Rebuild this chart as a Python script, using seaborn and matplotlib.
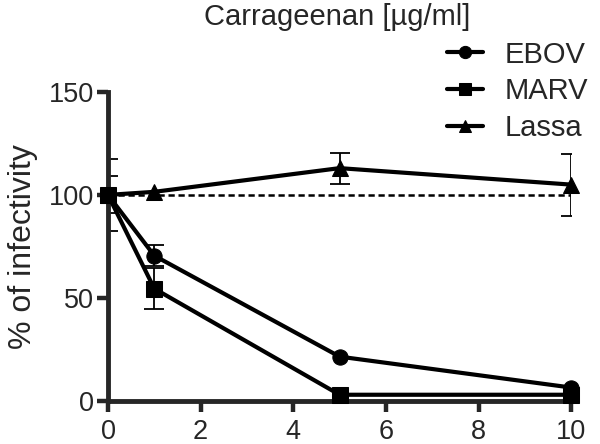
import numpy as np
import pandas as pd
import matplotlib
matplotlib.use("Agg")
import matplotlib.pyplot as plt
import seaborn as sns

# concentration [ug/ml]
conc = [0, 1, 5, 10]
ebov = [100, 70.5, 21.5, 6.5]
marv = [100, 54.5, 3, 3]
lassa = [100, 101.5, 113, 105]
ebov_err = [17.5, 5, 0, 0]
marv_err = [9, 10, 0, 0]
lassa_err = [0, 0, 7.5, 15]

viruses = ["EBOV", "MARV", "Lassa"]
markers = {"EBOV": "o", "MARV": "s", "Lassa": "^"}

df = pd.DataFrame(
    {
        "conc": conc * 3,
        "infectivity": ebov + marv + lassa,
        "err": ebov_err + marv_err + lassa_err,
        "virus": np.repeat(viruses, len(conc)),
    }
)

sns.set_style("ticks")
plt.rcParams["font.family"] = ["Liberation Sans", "DejaVu Sans"]

fig = plt.figure(figsize=(6, 4.44), dpi=100)
ax = fig.add_axes([0.18, 0.097, 0.772, 0.696])

ax.plot([0, 10], [100, 100], color="black", lw=1.8, ls=(0, (2.5, 1.5)), zorder=1)

sns.lineplot(
    data=df,
    x="conc",
    y="infectivity",
    hue="virus",
    style="virus",
    markers=markers,
    dashes=False,
    palette=["black"] * 3,
    markersize=11,
    linewidth=3,
    markeredgecolor="black",
    ax=ax,
    clip_on=False,
    zorder=3,
)

for v in viruses:
    sub = df[df["virus"] == v]
    sub = sub[sub["err"] > 0]
    ax.errorbar(
        sub["conc"], sub["infectivity"], yerr=sub["err"],
        fmt="none", ecolor="black", elinewidth=1.3, capsize=7,
        capthick=1.3, zorder=2,
    )

ax.set_xlim(0, 10)
ax.set_ylim(0, 150)
ax.set_xticks([0, 2, 4, 6, 8, 10])
ax.set_yticks([0, 50, 100, 150])
ax.set_xlabel("")
ax.set_ylabel("% of infectivity", fontsize=23, labelpad=8)
fig.text(0.562, 0.962, "Carrageenan [µg/ml]", fontsize=21, ha="center", va="center")

for s in ["top", "right"]:
    ax.spines[s].set_visible(False)
for s in ["left", "bottom"]:
    ax.spines[s].set_linewidth(3.5)
ax.tick_params(width=3.2, length=8, labelsize=19.5, direction="out", pad=2)
ax.tick_params(axis="x", pad=5)

handles, labels = ax.get_legend_handles_labels()
ax.get_legend().remove()
fig.legend(
    handles, labels, loc="upper right", bbox_to_anchor=(1.0, 0.935),
    frameon=False, fontsize=21, handlelength=1.25, handletextpad=0.75,
    labelspacing=0.3, borderaxespad=0, markerscale=0.8,
)

fig.savefig("out.png", dpi=100)
